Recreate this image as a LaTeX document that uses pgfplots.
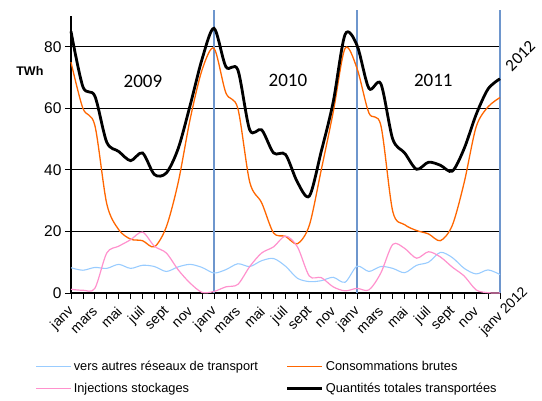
\documentclass[border=0pt]{standalone}
\usepackage{pgfplots}
\pgfplotsset{compat=1.18}
\usepackage{fontspec}
\setmainfont{Liberation Sans}
\newfontfamily\calib{Carlito}
\usetikzlibrary{calc}
\definecolor{reseaux}{RGB}{153,204,255}
\definecolor{conso}{RGB}{255,102,0}
\definecolor{inject}{RGB}{255,145,205}
\definecolor{yearline}{RGB}{110,150,205}

% monthly values, index 0 = janv 2009, 36 = janv 2012
\pgfplotstableread{
m total conso inject reseaux
0 85 75 1.2 8.2
1 67 60 0.9 7.4
2 64 54.5 1.5 8.3
3 49 29 13 8
4 46 20.6 15.2 9.3
5 43 17.5 17.3 8
6 45.5 17 19.8 9
7 38.5 15 15.2 8.6
8 39 21.5 13 7
9 47 36 7.5 8.5
10 61 56.5 3.2 9.3
11 76 72.5 0.2 8.3
12 86 79.5 0.5 6.5
13 73.5 65 2 7.6
14 72.5 60 2.8 9.5
15 53 36 8.6 8.6
16 53 29.3 13 10.5
17 45.5 19.5 15 11.2
18 45 18.4 18.5 8.7
19 36 16 15 4.8
20 31.5 22 5.5 3.7
21 46 40 5 4
22 62 58.7 2 5.1
23 84 79.5 0.7 3.5
24 80.5 73 1.5 8.7
25 66.5 58.5 1 7
26 68 54.5 6.5 8.6
27 50 26.5 15.8 8
28 45.5 22.2 14.5 6.6
29 40.2 20.3 11.3 9
30 42.5 19.2 13.4 10
31 41.5 17 11.7 13.2
32 39.6 22 8.4 11.5
33 47 36 5.5 8
34 58 54 1 6.2
35 66.3 60.5 0.1 7.5
36 69.6 63.5 0 6
}\data

\begin{document}
\begin{tikzpicture}[x=1pt,y=1pt]
\begin{axis}[
    at={(71pt,107pt)}, anchor=south west,
    scale only axis,
    width=429pt, height=277pt,
    xmin=0, xmax=36, ymin=0, ymax=90,
    axis lines=left,
    axis line style={-, line width=1.2pt, black},
    clip=false,
    xtick={0,...,36},
    xticklabels={janv,,mars,,mai,,juil,,sept,,nov,,janv,,mars,,mai,,juil,,sept,,nov,,janv,,mars,,mai,,juil,,sept,,nov,,},
    xticklabel style={rotate=45, anchor=east, font=\fontsize{14}{14}\selectfont, inner sep=1pt, xshift=2pt},
    xticklabel shift=11pt,
    ytick={0,20,40,60,80},
    yticklabel style={font=\fontsize{15.5}{15.5}\selectfont},
    /pgf/number format/assume math mode=true,
    tick align=outside,
    major tick length=6pt,
    tick style={black, line width=0.8pt},
    ymajorgrids,
    major grid style={black, line width=0.9pt},
    legend columns=2,
    legend style={draw=none, fill=none, at={(axis description cs:-0.09,-0.23)}, anchor=north west,
        font=\fontsize{12.8}{14}\selectfont, cells={anchor=west},
        /tikz/every even column/.append style={column sep=26pt},
        /tikz/row sep=7pt},
    legend image code/.code={\draw[#1] (0pt,0pt) -- (35pt,0pt);},
]
\addplot[forget plot, yearline, line width=1.3pt] coordinates {(12,0) (12,92)};
\addplot[forget plot, yearline, line width=1.3pt] coordinates {(24,0) (24,92)};
\addplot[forget plot, yearline, line width=1.3pt] coordinates {(36,0) (36,92)};
\addplot[reseaux, line width=1.1pt, smooth] table[x=m, y=reseaux] {\data};
\addplot[conso, line width=1.3pt, smooth] table[x=m, y=conso] {\data};
\addplot[inject, line width=1.2pt, smooth] table[x=m, y=inject] {\data};
\addplot[black, line width=2.8pt, smooth] table[x=m, y=total] {\data};
\legend{vers autres réseaux de transport, Consommations brutes, Injections stockages, Quantités totales transportées}
\node[font=\calib\fontsize{19}{19}\selectfont] at (axis cs:6.04,68.7) {2009};
\node[font=\calib\fontsize{19}{19}\selectfont] at (axis cs:18.2,69.2) {2010};
\node[font=\calib\fontsize{19}{19}\selectfont] at (axis cs:30.4,69.2) {2011};
\node[font=\calib\fontsize{17}{17}\selectfont, rotate=45] at (axis cs:37.7,77) {2012};
\node[font=\bfseries\fontsize{12.5}{12.5}\selectfont] at (axis cs:-3.45,72) {TWh};
\node[font=\fontsize{14}{14}\selectfont, rotate=45] at ($(axis cs:36,0)+(4pt,-18.5pt)$) {janv 2012};
\end{axis}
\pgfresetboundingbox
\path (0pt,0pt) rectangle (542pt,400pt);
\end{tikzpicture}
\end{document}
